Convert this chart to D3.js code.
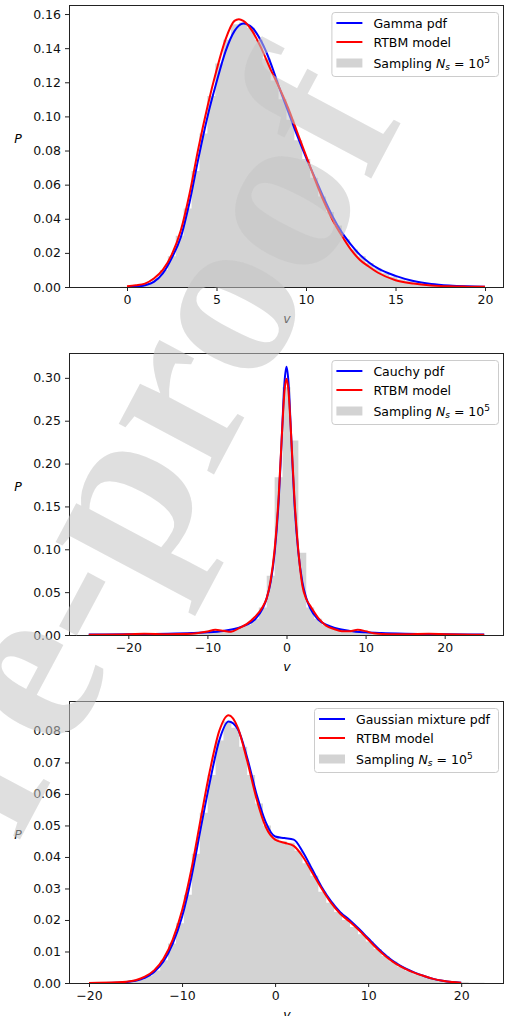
<!DOCTYPE html>
<html>
<head>
<meta charset="utf-8">
<script src="https://cdn.jsdelivr.net/npm/d3@7"></script>
<style>
body { margin: 0; background: #fff; }
svg { display: block; }
</style>
</head>
<body>
<svg id="chart" width="505" height="1016" font-family="DejaVu Sans, sans-serif"></svg>
<script>
// ---- panel 1 : Gamma ----
var gammaV   = [0,0.5,1,1.5,2,2.5,3,3.5,4,4.5,5,5.5,6,6.5,7,7.5,8,8.5,9,9.5,10,10.5,11,11.5,12,12.5,13,13.5,14,15,16,17,18,19,20];
var gammaPdf = [0,0.0002,0.001,0.003,0.008,0.017,0.029,0.050,0.076,0.100,0.120,0.138,0.150,0.1545,0.152,0.144,0.132,0.117,0.103,0.089,0.076,0.064,0.052,0.041,0.032,0.025,0.019,0.0145,0.011,0.0065,0.0035,0.0018,0.0009,0.0004,0.0001];
var rtbmV1   = [0,0.5,1,1.5,2,2.5,3,3.5,4,4.5,5,5.5,6,6.25,6.5,7,7.5,8,8.5,9,9.5,10,10.5,11,11.5,12,12.5,13,13.5,14,15,16,17,18,19,20];
var rtbm1    = [0.0005,0.001,0.002,0.005,0.010,0.019,0.033,0.055,0.082,0.106,0.127,0.145,0.156,0.157,0.156,0.150,0.140,0.128,0.117,0.105,0.091,0.077,0.063,0.050,0.039,0.030,0.022,0.016,0.012,0.0085,0.004,0.002,0.0009,0.0004,0.0002,0.0001];
var hist1Start = -2.14, hist1Width = 0.442;
var hist1 = [0,0,0,0,0.0002,0.0005,0.001,0.002,0.005,0.010,
             0.018,0.030,0.046,0.068,0.090,0.112,0.131,0.145,0.154,0.155,
             0.152,0.145,0.134,0.121,0.110,0.098,0.086,0.075,0.064,0.053,
             0.044,0.036,0.028,0.022,0.018,0.014,0.011,0.008,0.006,0.0045,
             0.0035,0.0025,0.0018,0.0013,0.0009,0.0006,0.0004,0.0003,0.0002,0.0001];

// ---- panel 2 : Cauchy ----
var cauchyV   = [-25,-20,-15,-12,-10,-8,-6,-5,-4,-3,-2.5,-2,-1.5,-1,-0.75,-0.5,-0.25,0,0.25,0.5,0.75,1,1.5,2,2.5,3,4,5,6,8,10,12,15,20,25];
var cauchyPdf = [0.0005,0.0008,0.0014,0.0022,0.0031,0.0048,0.0085,0.012,0.018,0.031,0.043,0.062,0.096,0.155,0.200,0.250,0.295,0.313,0.295,0.250,0.200,0.155,0.096,0.062,0.043,0.031,0.018,0.012,0.0085,0.0048,0.0031,0.0022,0.0014,0.0008,0.0005];
var rtbmV2 = [-25,-20,-18,-15,-12,-10,-9,-8,-7,-6,-5,-4,-3,-2.5,-2,-1.5,-1,-0.5,-0.25,0,0.25,0.5,1,1.5,2,2.5,3,4,5,6,7,8,9,10,11,13,15,18,20,25];
var rtbm2  = [0.0003,0.0008,0.0015,0.0010,0.0015,0.004,0.006,0.005,0.0038,0.008,0.013,0.021,0.033,0.043,0.064,0.100,0.160,0.248,0.285,0.299,0.285,0.248,0.160,0.098,0.058,0.042,0.034,0.020,0.011,0.007,0.0045,0.0045,0.006,0.0045,0.002,0.001,0.001,0.0015,0.001,0.0003];
var hist2Start = -24.5, hist2Width = 1;
var hist2 = [0.0005,0.0006,0.0006,0.0007,0.0008,0.0009,0.001,0.0011,0.0012,0.0014,
             0.0016,0.0018,0.0021,0.0026,0.003,0.0038,0.0048,0.006,0.0085,0.012,
             0.019,0.032,0.069,0.184,0.289,0.227,0.096,0.032,0.019,0.012,
             0.0085,0.006,0.0048,0.0038,0.003,0.0026,0.0021,0.0018,0.0016,0.0014,
             0.0012,0.0011,0.001,0.0009,0.0008,0.0007,0.0006,0.0006,0.0005];

// ---- panel 3 : Gaussian mixture ----
var mixV   = [-20,-17,-16,-15,-14,-13,-12,-11,-10,-9,-8,-7,-6,-5,-4,-3,-2,-1,0,1,2,3,4,5,6,7,8,9,10,11,12,13,14,15,16,17,18,19,20];
var mixPdf = [0,0.0001,0.0003,0.0007,0.0016,0.0035,0.0068,0.0125,0.021,0.0335,0.049,0.064,0.077,0.083,0.0805,0.0715,0.060,0.051,0.0465,0.046,0.0455,0.0415,0.036,0.0305,0.026,0.0225,0.020,0.0172,0.0142,0.0112,0.0085,0.0063,0.0046,0.0033,0.0022,0.0013,0.0007,0.0003,0.0001];
var rtbm3  = [0,0.0002,0.0004,0.0009,0.002,0.004,0.0077,0.0138,0.023,0.036,0.052,0.0675,0.080,0.085,0.081,0.0705,0.0585,0.0495,0.0455,0.0445,0.0435,0.040,0.035,0.030,0.0255,0.022,0.0195,0.0168,0.0138,0.0108,0.0082,0.0061,0.0045,0.0032,0.0022,0.0013,0.0007,0.0003,0.0001];
var hist3Start = -20, hist3Width = 0.85;
var hist3 = [0,0,0.0001,0.0001,0.0003,0.0006,0.0011,0.0022,0.004,0.0072,
             0.0125,0.019,0.028,0.041,0.054,0.066,0.077,0.083,0.081,0.075,
             0.066,0.057,0.050,0.046,0.045,0.0445,0.042,0.038,0.034,0.029,
             0.0255,0.0225,0.020,0.0178,0.0155,0.0132,0.0108,0.0086,0.0068,0.0051,
             0.0038,0.0028,0.0019,0.0013,0.0008,0.0005,0.0003,0.0002,0.0001,0.0001];

var legendLabels = ["Gamma pdf", "Cauchy pdf", "Gaussian mixture pdf"];

var svg = d3.select("#chart");
var left = 69, right = 504, plotH = 282;

var panels = [
	{ top: 5,   xDom: [-3.24, 21.06], yDom: [0, 0.1653], xTicks: [0,5,10,15,20], yTicks: d3.range(0, 0.161, 0.02),
	  hist: hist1, hStart: hist1Start, hW: hist1Width, bx: gammaV, by: gammaPdf, rx: rtbmV1, ry: rtbm1, label: legendLabels[0] },
	{ top: 353, xDom: [-27.5, 27.5], yDom: [0, 0.329], xTicks: [-20,-10,0,10,20], yTicks: d3.range(0, 0.301, 0.05),
	  hist: hist2, hStart: hist2Start, hW: hist2Width, bx: cauchyV, by: cauchyPdf, rx: rtbmV2, ry: rtbm2, label: legendLabels[1] },
	{ top: 701, xDom: [-22.15, 24.6], yDom: [0, 0.0895], xTicks: [-20,-10,0,10,20], yTicks: d3.range(0, 0.0801, 0.01),
	  hist: hist3, hStart: hist3Start, hW: hist3Width, bx: mixV, by: mixPdf, rx: mixV, ry: rtbm3, label: legendLabels[2] }
];

panels.forEach(function (p, pi) {
	var x = d3.scaleLinear().domain(p.xDom).range([left, right]);
	var y = d3.scaleLinear().domain(p.yDom).range([p.top + plotH, p.top]);
	var g = svg.append("g");

	g.append("clipPath").attr("id", "clip" + pi)
		.append("rect").attr("x", left).attr("y", p.top).attr("width", right - left).attr("height", plotH);

	var plot = g.append("g").attr("clip-path", "url(#clip" + pi + ")");

	// histogram as one stepped area so no seams between bars
	var steps = p.hist.map(function (d, i) { return [p.hStart + i * p.hW, d]; });
	steps.push([p.hStart + p.hist.length * p.hW, 0]);
	var area = d3.area()
		.x(function (d) { return x(d[0]); })
		.y0(y(0))
		.y1(function (d) { return y(d[1]); })
		.curve(d3.curveStepAfter);
	plot.append("path").attr("d", area(steps)).attr("fill", "#d3d3d3");

	var line = d3.line()
		.x(function (d) { return x(d[0]); })
		.y(function (d) { return y(d[1]); })
		.curve(d3.curveMonotoneX);

	plot.append("path")
		.attr("d", line(d3.zip(p.bx, p.by)))
		.attr("fill", "none").attr("stroke", "#0000ff").attr("stroke-width", 2);
	plot.append("path")
		.attr("d", line(d3.zip(p.rx, p.ry)))
		.attr("fill", "none").attr("stroke", "#ff0000").attr("stroke-width", 2);

	// axes
	var xAxis = d3.axisBottom(x).tickValues(p.xTicks).tickSize(4).tickPadding(4).tickFormat(d3.format("d"));
	var yAxis = d3.axisLeft(y).tickValues(p.yTicks).tickSize(4).tickPadding(4).tickFormat(d3.format(".2f"));

	g.append("g").attr("transform", "translate(0," + (p.top + plotH) + ")").call(xAxis);
	g.append("g").attr("transform", "translate(" + left + ",0)").call(yAxis);
	g.selectAll(".domain").remove();
	g.selectAll(".tick line").attr("stroke", "#222");
	g.selectAll(".tick text").attr("font-size", 12.5).attr("fill", "#111").attr("font-family", "DejaVu Sans");

	g.append("rect")
		.attr("x", left + 0.5).attr("y", p.top + 0.5)
		.attr("width", right - left - 1).attr("height", plotH)
		.attr("fill", "none").attr("stroke", "#222").attr("stroke-width", 1);

	// axis labels
	g.append("text").attr("x", 18).attr("y", p.top + 138)
		.attr("text-anchor", "middle").attr("font-size", 12.5).attr("font-style", "italic").text("P");
	g.append("text").attr("x", (left + right) / 2 + 0.5).attr("y", p.top + plotH + 36)
		.attr("text-anchor", "middle").attr("font-size", 12.5).attr("font-style", "italic").text("v");

	// legend
	var lg = g.append("g");
	var rows = [p.top + 18, p.top + 37, p.top + 58];
	var box = lg.append("rect").attr("fill", "#fff").attr("fill-opacity", 0.8)
		.attr("stroke", "#ccc").attr("stroke-width", 1).attr("rx", 3);
	var t1 = lg.append("text").attr("font-size", 12.5).attr("y", rows[0] + 4.5).text(p.label);
	var t2 = lg.append("text").attr("font-size", 12.5).attr("y", rows[1] + 4.5).text("RTBM model");
	var t3 = lg.append("text").attr("font-size", 12.5).attr("y", rows[2] + 4.5);
	t3.append("tspan").text("Sampling ");
	t3.append("tspan").attr("font-style", "italic").text("N");
	t3.append("tspan").attr("font-style", "italic").attr("font-size", 9).attr("dy", 2.5).text("s");
	t3.append("tspan").attr("dy", -2.5).text(" = 10");
	t3.append("tspan").attr("font-size", 9).attr("dy", -5).text("5");

	var tw = d3.max([t1, t2, t3], function (t) { return t.node().getComputedTextLength(); });
	var bx0 = right - 6 - (tw + 5 + 26 + 11 + 8);
	box.attr("x", bx0 + 0.5).attr("y", p.top + 7 + 0.5).attr("width", tw + 50).attr("height", 64);
	[t1, t2, t3].forEach(function (t) { t.attr("x", bx0 + 42); });
	lg.append("line").attr("x1", bx0 + 5).attr("x2", bx0 + 31).attr("y1", rows[0]).attr("y2", rows[0])
		.attr("stroke", "#0000ff").attr("stroke-width", 2);
	lg.append("line").attr("x1", bx0 + 5).attr("x2", bx0 + 31).attr("y1", rows[1]).attr("y2", rows[1])
		.attr("stroke", "#ff0000").attr("stroke-width", 2);
	lg.append("rect").attr("x", bx0 + 5).attr("y", rows[2] - 4.5).attr("width", 26).attr("height", 9)
		.attr("fill", "#d3d3d3");
});

// watermark
svg.append("text")
	.attr("transform", "translate(405,115) rotate(-62)")
	.attr("text-anchor", "end")
	.attr("font-family", "Liberation Serif, serif")
	.attr("font-weight", "bold")
	.attr("font-size", 235)
	.attr("fill", "#c4c4c4")
	.attr("fill-opacity", 0.55)
	.text("Journal Pre-proof");
</script>
</body>
</html>
